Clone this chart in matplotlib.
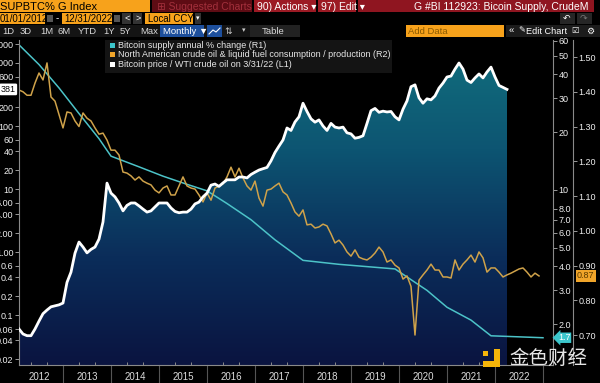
import numpy as np
import matplotlib
matplotlib.use('Agg')
import matplotlib.pyplot as plt
import matplotlib.transforms as mtransforms
from matplotlib.patches import Rectangle
from matplotlib.lines import Line2D
from matplotlib.colors import LinearSegmentedColormap
from matplotlib.ticker import FixedLocator, NullLocator

plt.rcParams['font.family'] = ['Liberation Sans', 'DejaVu Sans']

W, H = 600, 383

# --- data --------------------------------------------------------------------
# Bitcoin price / WTI crude oil (L1), monthly Jan 2012 .. Mar 2022
btc_wti = [0.06, 0.05, 0.047, 0.047, 0.06, 0.08, 0.105, 0.12, 0.135, 0.14, 0.145, 0.155,   # 2012
           0.33, 0.48, 0.96, 1.44, 1.2, 0.97, 1.1, 1.2, 1.6, 3.0, 12.4, 8.6,               # 2013
           7.5, 6.0, 4.5, 5.5, 6.0, 6.0, 5.4, 4.8, 4.3, 4.5, 5.2, 6.0,                    # 2014
           6.0, 6.0, 5.0, 4.4, 4.2, 4.3, 4.3, 4.8, 5.8, 6.2, 7.5, 8.6,                    # 2015
           11.5, 12, 11, 12.5, 14, 14, 14, 15.5, 15.5, 15, 17, 18.5,                      # 2016
           20, 21, 22, 28, 38, 48, 60, 93, 85, 116, 140, 230,                             # 2017
           170, 130, 115, 125, 100, 85, 110, 96, 93, 96, 78, 75,                          # 2018
           64, 66, 70, 110, 175, 190, 165, 172, 167, 170, 140, 125,                       # 2019
           185, 250, 420, 450, 280, 230, 270, 260, 300, 400, 480, 600,                    # 2020
           620, 800, 1000, 800, 535, 490, 580, 670, 580, 720, 860, 600,                   # 2021
           440, 410, 381]                                                                # 2022

# Bitcoin supply annual % change (R1), read at these month numbers (0 = Jan 2012)
supply_month = [0, 5, 10, 15, 20, 23, 30, 36, 42, 47, 52, 58, 64, 71, 80, 94,
                102, 107, 113, 118, 131]
supply_pct = [57, 45, 34, 25, 18.5, 15, 13.2, 11.8, 10.7, 9.9, 8.5, 7.0, 5.5, 4.3,
              4.1, 3.88, 3.0, 2.45, 2.1, 1.74, 1.7]

# North American crude oil & liquid fuel consumption / production (R2), monthly
oil_ratio = [1.405, 1.40, 1.39, 1.39, 1.425, 1.454, 1.434, 1.483, 1.385, 1.373, 1.335, 1.296,   # 2012
             1.342, 1.339, 1.316, 1.30, 1.339, 1.324, 1.316, 1.296, 1.278, 1.281, 1.261, 1.232,  # 2013
             1.232, 1.218, 1.169, 1.166, 1.158, 1.146, 1.155, 1.143, 1.137, 1.132, 1.117, 1.109,  # 2014
             1.123, 1.129, 1.103, 1.103, 1.129, 1.155, 1.129, 1.123, 1.12, 1.103, 1.083, 1.109,   # 2015
             1.088, 1.123, 1.129, 1.135, 1.155, 1.183, 1.155, 1.18, 1.152, 1.129, 1.117, 1.143,   # 2016
             1.094, 1.071, 1.117, 1.12, 1.129, 1.137, 1.112, 1.103, 1.08, 1.054, 1.042, 1.06,     # 2017
             1.017, 1.019, 1.008, 1.011, 1.019, 1.014, 0.991, 0.965, 0.973, 0.959, 0.939, 0.927,  # 2018
             0.945, 0.924, 0.919, 0.916, 0.924, 0.936, 0.953, 0.939, 0.91, 0.916, 0.901, 0.893,   # 2019
             0.861, 0.87, 0.84, 0.70, 0.858, 0.873, 0.887, 0.904, 0.887, 0.887, 0.867, 0.867,     # 2020
             0.864, 0.916, 0.887, 0.904, 0.916, 0.93, 0.91, 0.939, 0.922, 0.881, 0.893, 0.893,    # 2021
             0.881, 0.867, 0.873, 0.878, 0.884, 0.89, 0.893, 0.881, 0.867, 0.878, 0.87]           # 2022

years = list(range(2012, 2023))
# 400 sits under the last-value tag in the original, so it is left out
l1_ticks = [2000, 1000, 600, 200, 100, 60, 40, 20, 10, 6, 4, 2, 1, 0.6, 0.4, 0.2, 0.1, 0.06, 0.04, 0.02]
l1_labels = ['2000', '1000', '600', '200', '100', '60', '40', '20', '10', '6.00', '4.00', '2.00',
             '1.00', '0.6', '0.4', '0.2', '0.1', '0.06', '0.04', '0.02']
r1_ticks = [60, 50, 40, 30, 20, 10, 8, 7, 6, 5, 4, 3, 2]
r2_ticks = [0.70, 0.80, 0.90, 1.00, 1.10, 1.20, 1.30, 1.40, 1.50]


def month_to_year(m):
    # monthly points are plotted at month end
    return 2012 + (np.asarray(m) + 1) / 12.0


x_btc = month_to_year(np.arange(len(btc_wti)))
x_sup = month_to_year(supply_month)
x_oil = month_to_year(np.arange(len(oil_ratio)))

fig = plt.figure(figsize=(6, 3.83), dpi=100, facecolor='black')


def px_box(x0, y0, x1, y1, color, z=1):
    fig.add_artist(Rectangle((x0 / W, 1 - y1 / H), (x1 - x0) / W, (y1 - y0) / H,
                             transform=fig.transFigure, facecolor=color,
                             edgecolor='none', zorder=z))


def px_text(x, y, s, **kw):
    kw.setdefault('va', 'center')
    kw.setdefault('fontsize', 7)
    kw.setdefault('color', 'white')
    fig.text(x / W, 1 - y / H, s, zorder=5, **kw)


ORANGE = '#f7a21b'

# --- Bloomberg header ---------------------------------------------------------
px_box(0, 0, 150, 12, ORANGE)
px_text(0, 6.5, 'SUPBTC% G Index', color='black', fontsize=8)
px_box(152, 0, 252, 12, '#5e0c14')
px_text(157, 6.5, '\u229e Suggested Charts', color='#a3303c', fontsize=7.5)
px_box(254, 0, 316, 12, '#9c1a24')
px_text(257, 6.5, '90) Actions \u25be', fontsize=7.5)
px_box(318, 0, 356, 12, '#9c1a24')
px_text(321, 6.5, '97) Edit \u25be', fontsize=7.5)
px_box(358, 0, 594, 12, '#8f1520')
px_text(588, 6.5, 'G #BI 112923: Bicoin Supply, CrudeM', ha='right', fontsize=7.5)

px_box(0, 13, 45, 24, ORANGE)
px_text(0, 18.5, '01/01/2012', color='black', fontsize=6.9)
px_box(47, 15, 53, 22, '#555555')
px_text(55.5, 18.5, '-', fontsize=7)
px_box(62, 13, 112, 24, ORANGE)
px_text(64, 18.5, '12/31/2022', color='black', fontsize=6.9)
px_box(114, 15, 120, 22, '#555555')
px_box(122, 13, 131, 24, '#333333')
px_text(124.5, 18.5, '<', fontsize=6.5)
px_box(133, 13, 142, 24, '#333333')
px_text(135.5, 18.5, '>', fontsize=6.5)
px_box(145, 13, 193, 24, ORANGE)
px_text(147.5, 18.5, 'Local CCY', color='black', fontsize=6.9)
px_box(195, 13, 201, 24, '#333333')
px_text(195.5, 18.5, '\u25be', fontsize=5)
px_box(560, 13, 575, 24, '#262626')
px_text(563, 18.5, '\u21b6', fontsize=6.5)
px_box(577, 13, 592, 24, '#262626')
px_text(580, 18.5, '\u21b7', fontsize=6.5, color='#777777')

px_box(0, 25, 300, 37, '#141414')
for lab, xx in zip(['1D', '3D', '1M', '6M', 'YTD', '1Y', '5Y', 'Max'],
                   [2, 20, 40, 58, 78, 103, 120, 140]):
    px_text(xx, 31, lab, color='#d8d8d8', fontsize=6.8)
px_box(160, 25, 204, 37, '#1d4f9c')
px_text(163, 31, 'Monthly \u25bc', fontsize=6.8)
px_box(207, 25, 222, 37, '#1d4f9c')
fig.add_artist(Line2D(np.array([209, 213, 216, 220]) / W, 1 - np.array([34, 30, 32, 28]) / H,
                      transform=fig.transFigure, color='white', lw=0.8, zorder=5))
px_text(224, 31, '\u21c5', fontsize=6.5, color='#cccccc')
px_text(242, 31, '\u25be', fontsize=5, color='#cccccc')
px_box(250, 25, 300, 37, '#222222')
px_text(262, 31, 'Table', color='#d8d8d8', fontsize=6.8)
px_box(406, 25, 504, 37, ORANGE)
px_text(408, 31, 'Add Data', color='#8a5a00', fontsize=6.8)
px_box(506, 25, 600, 37, '#1c1c1c')
px_text(509, 31, '\u00ab', fontsize=6.8)
px_text(518, 31, '\u270e', fontsize=6)
px_text(526, 31, 'Edit Chart', fontsize=6.6)
px_text(571, 31, '\u2611', fontsize=6)
px_text(586, 31, '\u2699', fontsize=6.5)

# --- legend block -------------------------------------------------------------
px_box(105, 40, 392, 73, '#141414')
leg_items = [('#3cc6cc', 'Bitcoin supply annual % change (R1)'),
             ('#f0a52a', 'North American crude oil & liquid fuel consumption / production (R2)'),
             ('white', 'Bitcoin price / WTI crude oil on 3/31/22 (L1)')]
for (c, lab), yy in zip(leg_items, [45, 54.5, 64.5]):
    px_box(110, yy - 2.5, 115, yy + 2.5, c, z=2)
    px_text(117.5, yy, lab, color='#e8e8e8', fontsize=6.5)

# --- main plot ----------------------------------------------------------------
ax = fig.add_axes([19 / W, 1 - 365 / H, 534 / W, 325 / H], facecolor='black')
ax1 = ax.twinx()
ax2 = ax.twinx()

xlim = (2012 + 4 / 48, 2012 + 538 / 48)
ax.set_yscale('log')
ax.set_xlim(*xlim)
ax.set_ylim(0.0161, 2317)
ax.set_autoscale_on(False)
ax1.set_yscale('log')
ax1.set_ylim(1.226, 60.4)
ax1.set_autoscale_on(False)
ax2.set_ylim(0.6137, 1.549)
ax2.set_autoscale_on(False)

# gradient area under the BTC/WTI line
grad = np.linspace(0, 1, 256).reshape(-1, 1)
cmap = LinearSegmentedColormap.from_list('bb', ['#0a1440', '#0b2d5a', '#0d5572', '#11707e'])
im = ax.imshow(grad, extent=(0, 1, 0, 1), transform=ax.transAxes, origin='lower',
               aspect='auto', cmap=cmap, zorder=1, interpolation='bilinear')
area = ax.fill_between(x_btc, btc_wti, 1e-3, facecolor='none', edgecolor='none')
im.set_clip_path(area.get_paths()[0], ax.transData)

ax.plot(x_sup, supply_pct, color='#4cc3c8', lw=1.1, zorder=2, transform=ax1.transData)
ax.plot(x_oil, oil_ratio, color='#cfa24a', lw=1.1, zorder=2, transform=ax2.transData)
ax.plot(x_btc, btc_wti, color='white', lw=2.0, zorder=3, solid_joinstyle='round')

# axes styling
for a in (ax, ax1, ax2):
    for s in a.spines.values():
        s.set_visible(False)
ax.spines['left'].set_visible(True)
ax.spines['bottom'].set_visible(True)
ax.spines['left'].set_color('#8a8a8a')
ax.spines['bottom'].set_color('#8a8a8a')
ax1.spines['right'].set_visible(True)
ax1.spines['right'].set_color('#8a8a8a')
ax2.spines['right'].set_visible(True)
ax2.spines['right'].set_color('#8a8a8a')
ax2.spines['right'].set_position(('axes', 1 + 20 / 534))

tick_kw = dict(which='major', direction='out', length=3, width=0.7, color='#9a9a9a',
               labelsize=6.5, labelcolor='#eeeeee', pad=1)
ax.yaxis.set_major_locator(FixedLocator(l1_ticks))
ax.yaxis.set_minor_locator(NullLocator())
ax.set_yticklabels(l1_labels)
ax.tick_params(axis='y', **tick_kw)

ax1.yaxis.set_major_locator(FixedLocator(r1_ticks))
ax1.yaxis.set_minor_locator(NullLocator())
ax1.set_yticklabels([f'{v:.0f}' if v >= 10 else f'{v:.1f}' for v in r1_ticks])
ax1.tick_params(axis='y', **tick_kw)

ax2.yaxis.set_major_locator(FixedLocator(r2_ticks))
ax2.set_yticklabels([f'{v:.2f}' for v in r2_ticks])
ax2.tick_params(axis='y', **tick_kw)

ax.set_xticks([2012 + k / 3 for k in range(1, 34) if k % 3])
ax.set_xticks([y + 0.5 for y in years], minor=True)
ax.set_xticklabels([str(y) for y in years], minor=True)
ax.tick_params(axis='x', which='major', direction='in', length=2.5, width=0.7,
               color='#8a8a8a', labelbottom=False)
ax.tick_params(axis='x', which='minor', length=0, labelsize=7,
               labelcolor='#dcdcdc', pad=5)
for a in (ax1, ax2):
    a.xaxis.set_visible(False)

sep = mtransforms.blended_transform_factory(ax.transData, ax.transAxes)
for y in years[1:] + [2023]:
    ax.plot([y, y], [0, -0.06], transform=sep, color='#555555', lw=0.8, clip_on=False)

# last-value tags
tl = mtransforms.blended_transform_factory(ax.transAxes, ax.transData)
ax.text(-0.006, btc_wti[-1], f'{btc_wti[-1]:.0f}', transform=tl, ha='right', va='center',
        fontsize=6.5, color='black', clip_on=False, zorder=6,
        bbox=dict(boxstyle='round,pad=0.15', fc='white', ec='none'))
t1 = mtransforms.blended_transform_factory(ax1.transAxes, ax1.transData)
ax1.text(1 + 5 / 534, supply_pct[-1], f'{supply_pct[-1]:.1f}', transform=t1, ha='left',
         va='center', fontsize=6.5, color='white', clip_on=False, zorder=6,
         bbox=dict(boxstyle='larrow,pad=0.08', fc='#3cc6cc', ec='none'))
t2 = mtransforms.blended_transform_factory(ax2.transAxes, ax2.transData)
ax2.text(1 + 24 / 534, oil_ratio[-1], f'{oil_ratio[-1]:.2f}', transform=t2, ha='left',
         va='center', fontsize=6.5, color='#5a3a00', clip_on=False, zorder=6,
         bbox=dict(boxstyle='square,pad=0.15', fc='#f0a52a', ec='none'))

# watermark
px_box(483, 351, 488, 356, '#f5b50a', z=4)
px_box(494, 349, 500, 367, '#f5b50a', z=4)
px_box(483, 361, 500, 367, '#f5b50a', z=4)
px_text(548, 358, '金色财经', ha='center', fontsize=14, color='white', alpha=0.9,
        family=['Noto Sans CJK SC', 'DejaVu Sans'])

fig.savefig('out.png', dpi=100, facecolor='black')
